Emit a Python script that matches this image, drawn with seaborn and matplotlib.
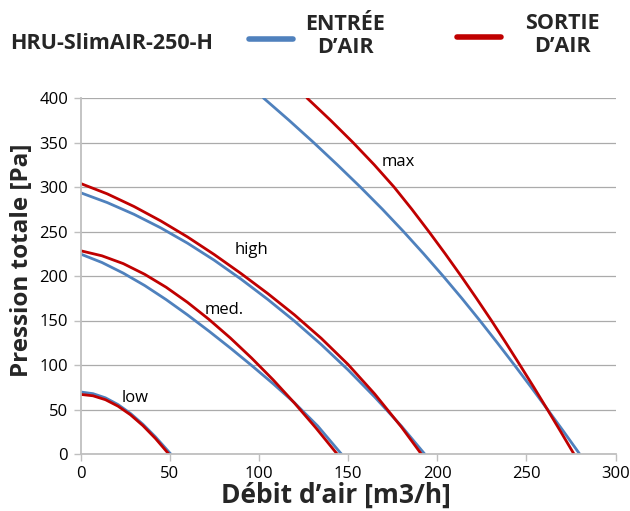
import numpy as np
import pandas as pd
import matplotlib
matplotlib.use("Agg")
import matplotlib.pyplot as plt
from matplotlib.lines import Line2D
import seaborn as sns

# ---- data ----
speeds = ["low", "med.", "high", "max"]
flux_names = ["ENTRÉE D’AIR", "SORTIE D’AIR"]

in_low_x = [0, 7, 14, 21, 28, 35, 42, 50.6]
in_low_y = [69.7, 67.8, 63.1, 55.6, 45.6, 33.4, 19.3, 0]
out_low_x = [0, 7, 14, 21, 28, 35, 42, 49.5]
out_low_y = [67, 65.4, 61.0, 53.8, 44.1, 31.9, 17.5, 0]

in_med_x = [0, 12, 24, 36, 48, 60, 72, 84, 96, 108, 120, 133, 146.3]
in_med_y = [224.7, 215.2, 203.2, 189.3, 173.5, 156.3, 138.1, 119.1, 99.4, 79.0, 57.5, 31.5, 0]
out_med_x = [0, 12, 24, 36, 48, 60, 72, 84, 96, 108, 120, 132, 143.9]
out_med_y = [228.4, 222.7, 213.9, 201.9, 187.4, 170.4, 151.3, 130.4, 107.7, 83.4, 57.2, 29.3, 0]

in_high_x = [0, 15, 30, 45, 60, 75, 90, 105, 120, 135, 150, 165, 180, 193]
in_high_y = [293.6, 282.5, 269.3, 254.1, 236.9, 217.7, 196.5, 173.7, 149.3, 123.0, 94.6, 64.0, 31.2, 0]
out_high_x = [0, 15, 30, 45, 60, 75, 90, 105, 120, 135, 150, 165, 180, 191.1]
out_high_y = [304, 292.3, 278.1, 261.9, 243.9, 224.1, 202.8, 180.3, 156.3, 130.0, 100.7, 67.4, 30.2, 0]

in_max_x = [102.6, 116.9, 130.7, 144.0, 156.9, 169.3, 181.1, 192.4, 203.3,
            213.8, 223.9, 233.7, 243.3, 252.7, 261.9, 271.0, 279.9]
in_max_y = [400, 375, 350, 325, 300, 275, 250, 225, 200, 175, 150, 125, 100, 75, 50, 25, 0]
out_max_x = [127, 140.2, 152.8, 164.7, 175.8, 185.8, 195.3, 204.5, 213.4,
             222.0, 230.4, 238.5, 246.4, 254.2, 261.8, 269.3, 276.7]
out_max_y = [400, 375, 350, 325, 300, 275, 250, 225, 200, 175, 150, 125, 100, 75, 50, 25, 0]

label_x = [30.4, 80.5, 95.7, 178]
label_y = [63, 162, 229, 328]

x_ticks = [0, 50, 100, 150, 200, 250, 300]
y_ticks = [0, 50, 100, 150, 200, 250, 300, 350, 400]

curves = [
    (flux_names[0], "low", in_low_x, in_low_y),
    (flux_names[1], "low", out_low_x, out_low_y),
    (flux_names[0], "med.", in_med_x, in_med_y),
    (flux_names[1], "med.", out_med_x, out_med_y),
    (flux_names[0], "high", in_high_x, in_high_y),
    (flux_names[1], "high", out_high_x, out_high_y),
    (flux_names[0], "max", in_max_x, in_max_y),
    (flux_names[1], "max", out_max_x, out_max_y),
]
rows = []
for flux, sp, xs, ys in curves:
    for i, (xv, yv) in enumerate(zip(xs, ys)):
        rows.append({"flux": flux, "unit": f"{flux}-{sp}", "order": i, "x": xv, "y": yv})
df = pd.DataFrame(rows)

BLUE = "#4F81BD"
RED = "#C00000"
palette = {flux_names[0]: BLUE, flux_names[1]: RED}

sns.set_theme(style="white")
plt.rcParams["font.family"] = ["Open Sans", "DejaVu Sans"]

fig = plt.figure(figsize=(6.3, 5.11), dpi=100)
ax = fig.add_axes([80.5 / 630, 1 - 454 / 511, 535 / 630, 356 / 511])

sns.lineplot(data=df, x="x", y="y", hue="flux", units="unit", estimator=None,
             sort=False, palette=palette, linewidth=2.0, legend=False, ax=ax)
for ln in ax.lines:
    ln.set_solid_joinstyle("round")

ax.set_xlim(0, 300)
ax.set_ylim(0, 400)
ax.set_xticks(x_ticks)
ax.set_yticks(y_ticks)
ax.set_xticklabels([str(v) for v in x_ticks])
ax.set_yticklabels([str(v) for v in y_ticks])
ax.yaxis.grid(True, color="#ABABAB", linewidth=0.9)
ax.xaxis.grid(False)
ax.set_axisbelow(True)
for s in ["top", "right"]:
    ax.spines[s].set_visible(False)
for s in ["left", "bottom"]:
    ax.spines[s].set_color("#BFBFBF")
    ax.spines[s].set_linewidth(1.3)
ax.tick_params(axis="both", which="major", direction="out", length=5, width=1.0,
               color="#BFBFBF", labelsize=12, labelcolor="black", pad=4,
               left=True, bottom=True)
ax.set_xlabel("")
ax.set_ylabel("")

for sp, lx, ly in zip(speeds, label_x, label_y):
    ax.text(lx, ly, sp, ha="center", va="center", fontsize=12, color="black")

fig.text(336 / 630, 1 - 495 / 511, "Débit d’air [m3/h]", ha="center", va="center",
         fontsize=19, fontweight="bold")
fig.text(22 / 630, 1 - 260 / 511, "Pression totale [Pa]", ha="center", va="center",
         rotation=90, fontsize=17.5, fontweight="bold")

# title and legend
fig.text(10 / 630, 1 - 43 / 511, "HRU-SlimAIR-250-H", ha="left", va="center",
         fontsize=15.5, fontweight="bold")
fig.add_artist(Line2D([249 / 630, 293 / 630], [1 - 39 / 511, 1 - 39 / 511],
                      color=BLUE, linewidth=4, solid_capstyle="round",
                      transform=fig.transFigure))
fig.text(345 / 630, 1 - 36 / 511, "ENTRÉE\nD’AIR", ha="center", va="center",
         fontsize=15.5, fontweight="bold", multialignment="center", linespacing=1.15)
fig.add_artist(Line2D([457 / 630, 501 / 630], [1 - 37 / 511, 1 - 37 / 511],
                      color=RED, linewidth=4, solid_capstyle="round",
                      transform=fig.transFigure))
fig.text(562 / 630, 1 - 35 / 511, "SORTIE\nD’AIR", ha="center", va="center",
         fontsize=15.5, fontweight="bold", multialignment="center", linespacing=1.15)

fig.savefig("out.png", dpi=100)
